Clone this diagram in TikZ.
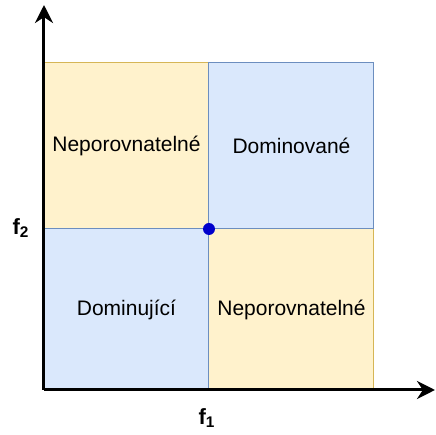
\documentclass[tikz,border=0pt]{standalone}
\usepackage{fontspec}
\setmainfont{Liberation Sans}
\usetikzlibrary{arrows.meta}

\definecolor{yelfill}{HTML}{FFF2CC}
\definecolor{yelline}{HTML}{D6B656}
\definecolor{bluefill}{HTML}{DAE8FC}
\definecolor{blueline}{HTML}{6C8EBF}
\definecolor{dotblue}{HTML}{0000CC}

\begin{document}
\begin{tikzpicture}[
        x=0.5pt, y=0.5pt,
        >={Stealth[length=9pt, width=9pt]},
        font=\fontsize{10.5}{12}\selectfont,
        cell/.style={draw, line width=0.5pt, minimum width=82.5pt, inner sep=0pt, outer sep=0pt, anchor=south west},
        incomp/.style={cell, fill=yelfill, draw=yelline},
        comp/.style={cell, fill=bluefill, draw=blueline},
        axis/.style={line width=1.5pt, ->},
        axlab/.style={font=\fontsize{11}{13}\selectfont\bfseries}
    ]
        \useasboundingbox (0,0) rectangle (436,435);

        % yellow cells first, blue borders lie on top
        \node[incomp, minimum height=83pt] (nw) at (44,206) {Neporovnatelné};
        \node[incomp, minimum height=80.5pt] (se) at (209,45) {Neporovnatelné};
        \node[comp, minimum height=83pt] (ne) at (209,206) {Dominované};
        \node[comp, minimum height=80.5pt] (sw) at (44,45) {Dominující};

        \coordinate (origin) at (44,45);
        \coordinate (ytop) at (44,430);
        \coordinate (xend) at (435,45);
        \draw[axis] (origin) -- (ytop);
        \draw[axis] (origin) -- (xend);

        \node[circle, fill=dotblue, inner sep=0pt, minimum size=6pt] (point) at (nw.south east) {};

        \node[axlab] (f1) at (207,17) {f\textsubscript{1}};
        \node[axlab] (f2) at (21,207) {f\textsubscript{2}};
    \end{tikzpicture}
\end{document}
